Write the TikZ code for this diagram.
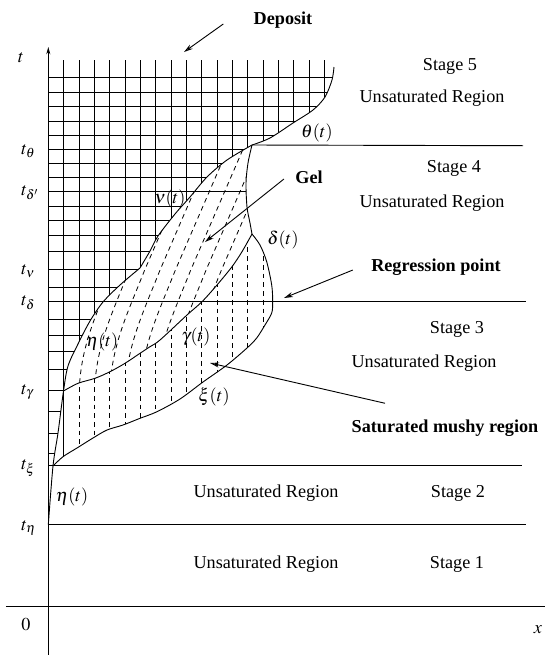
\documentclass[tikz,border=0pt]{standalone}
\usepackage{mathptmx}
\usepackage{fontspec}
\setmainfont{Liberation Serif}
\usetikzlibrary{arrows.meta, calc}

\tikzset{
  curve/.style={line width=0.5pt},
  gridline/.style={line width=0.45pt},
  mush/.style={line width=0.45pt, dash pattern=on 2.6pt off 2.2pt},
  pointer/.style={line width=0.5pt, -{Stealth[open, length=5pt, width=2.8pt]}},
  lbl/.style={font=\bfseries},
}

\begin{document}
\begin{tikzpicture}[x=0.55pt, y=-0.55pt]
  \useasboundingbox (0,0) rectangle (545,655);

  % Key points
  \coordinate (O) at (48.3,606.4);
  \coordinate (teta) at (48.3,524.7);
  \coordinate (txi) at (53,466);
  \coordinate (tgam) at (63.5,391);
  \coordinate (kink) at (140,268);
  \coordinate (cusp) at (252,145);
  \coordinate (peak) at (252,234);
  \coordinate (top) at (334,67);

  % Deposit grid (clipped by the outer curve and theta(t))
  \begin{scope}
    \clip (teta) -- (48.3,55) -- (340,55) -- (top)
      -- plot[smooth] coordinates {(334,67) (332,80) (325,97) (313,110) (293,123) (270,138) (252,145)}
      -- plot[smooth] coordinates {(252,145) (227,160) (207,177) (190,197) (175,214) (158,236) (150,251) (140,268)}
      -- plot[smooth] coordinates {(140,268) (120,285) (103,302) (90,321) (78,344) (68,366) (63.5,391) (58,433) (53,466) (48.3,524.7)}
      -- cycle;
    \foreach \i in {1,...,18}
      \draw[gridline] ({48.3+15.35*\i},60) -- ({48.3+15.35*\i},530);
    \foreach \y in {77.7,92.3,106.7,121,135,149.3,163.3,177.7,206.7,220,235,251,269.3,287.3,319.3,335,351.7,369.3,390.7,411.7,433.3,453.3}
      \draw[gridline] (48.3,\y) -- (340,\y);
  \end{scope}
  \draw[gridline] (63.65,391) -- (63.65,457);

  % Gel: slanted dashed lines
  \begin{scope}
    \clip plot[smooth] coordinates {(63.5,391) (68,366) (78,344) (90,321) (103,302) (120,285) (140,268)}
      -- plot[smooth] coordinates {(140,268) (150,251) (158,236) (175,214) (190,197) (207,177) (227,160) (252,145)}
      -- plot[smooth] coordinates {(252,145) (248,163) (246,183) (247,207) (250,223) (252,234)}
      -- plot[smooth] coordinates {(252,234) (242,251.7) (232,266.7) (217,285) (202,301.7) (187,315) (160,340) (150,346.7) (140,353.3) (125,363.3) (110,371.7) (95,378.3) (78,383.3) (63.5,391)}
      -- cycle;
    \foreach \i [evaluate=\i as \s using 48.3+15.35*\i] in {2,...,10}
      \draw[mush] (\s,470) -- (\s,400) .. controls (\s,350) and ({\s+15},320) .. ({\s+35},270) -- ++(80,-185);
  \end{scope}

  % Saturated mushy region: vertical dashed lines
  \begin{scope}
    \clip plot[smooth] coordinates {(63.5,391) (78,383.3) (95,378.3) (110,371.7) (125,363.3) (140,353.3) (150,346.7) (160,340) (187,315) (202,301.7) (217,285) (232,266.7) (242,251.7) (252,234)}
      -- plot[smooth] coordinates {(252,234) (260,245) (266.7,261.7) (271.7,285) (272.7,301.7) (271.7,313) (265,325) (256.7,338) (247,348) (227,365) (203,382) (180,399) (157,411.7) (140,418.3) (123,425) (107,430) (93,438) (77,448) (63,456.7) (53,466)}
      -- plot[smooth] coordinates {(53,466) (58,433) (63.5,391)}
      -- cycle;
    \foreach \i in {2,...,14}
      \draw[mush] ({48.3+15.35*\i},230) -- ({48.3+15.35*\i},470);
  \end{scope}

  % Free boundaries
  \draw[curve] plot[smooth] coordinates {(48.3,524.7) (53,466) (58,433) (63.5,391) (68,366) (78,344) (90,321) (103,302) (120,285) (140,268)};
  \draw[curve] plot[smooth] coordinates {(140,268) (150,251) (158,236) (175,214) (190,197) (207,177) (227,160) (252,145)};
  \draw[curve] plot[smooth] coordinates {(252,145) (270,138) (293,123) (313,110) (325,97) (332,80) (334,67)};
  \draw[curve] plot[smooth] coordinates {(252,145) (248,163) (246,183) (247,207) (250,223) (252,234)};
  \draw[curve] plot[smooth] coordinates {(63.5,391) (78,383.3) (95,378.3) (110,371.7) (125,363.3) (140,353.3) (150,346.7) (160,340) (187,315) (202,301.7) (217,285) (232,266.7) (242,251.7) (252,234)};
  \draw[curve] plot[smooth] coordinates {(252,234) (260,245) (266.7,261.7) (271.7,285) (272.7,301.7) (271.7,313) (265,325) (256.7,338) (247,348) (227,365) (203,382) (180,399) (157,411.7) (140,418.3) (123,425) (107,430) (93,438) (77,448) (63,456.7) (53,466)};

  % Time levels
  \draw[curve] (cusp) -- (523,145.7);
  \draw[curve] (48.3,191.7) -- (246,191.7);
  \draw[curve] (48.3,301.7) -- (526,301.7);
  \draw[curve] (48.3,465.7) -- (522,465.7);
  \draw[curve] (teta) -- (526,524.7);

  % Axes
  \draw[curve, -{Stealth[length=4pt, width=2.2pt]}] (48.3,655) -- (48.3,47);
  \draw[curve] (6,606.4) -- (545,606.4);

  % Axis labels
  \node (lt) at (21,58) {$t$};
  \node[anchor=west] (ltheta) at (15,151) {$t_\theta$};
  \node[anchor=west] (ldeltap) at (15,193) {$t_{\delta'}$};
  \node[anchor=west] (lnu) at (15,271) {$t_\nu$};
  \node[anchor=west] (ldelta) at (15,303) {$t_\delta$};
  \node[anchor=west] (lgamma) at (15,392) {$t_\gamma$};
  \node[anchor=west] (lxi) at (15,468) {$t_\xi$};
  \node[anchor=west] (leta) at (15,528) {$t_\eta$};
  \node (lzero) at (26,625) {$0$};
  \node (lx) at (538,630) {$x$};

  % Curve labels
  \node (ntheta) at (317,133) {$\theta(t)$};
  \node (nnu) at (170,199) {$\nu(t)$};
  \node (ndelta) at (283,240) {$\delta(t)$};
  \node (netaup) at (102,342) {$\eta(t)$};
  \node (ngamma) at (196,337) {$\gamma(t)$};
  \node (nxi) at (214,397) {$\xi(t)$};
  \node (netalow) at (72,497) {$\eta(t)$};

  % Stage labels
  \node (st5) at (450,66) {Stage 5};
  \node (un5) at (432,98) {Unsaturated Region};
  \node (st4) at (454,168) {Stage 4};
  \node (un4) at (432,203) {Unsaturated Region};
  \node (st3) at (457,329) {Stage 3};
  \node (un3) at (424,363) {Unsaturated Region};
  \node (un2) at (266,493) {Unsaturated Region};
  \node (st2) at (458,493) {Stage 2};
  \node (un1) at (266,564) {Unsaturated Region};
  \node (st1) at (457,564) {Stage 1};

  % Pointers
  \node[lbl] (deposit) at (283,20) {Deposit};
  \node[lbl] (gel) at (309,177) {Gel};
  \node[lbl] (regr) at (436,267) {Regression point};
  \node[lbl] (mushy) at (445,428) {Saturated mushy region};
  \coordinate (depTip) at (184,52);
  \coordinate (gelTip) at (205,242);
  \coordinate (regrTip) at (284,298);
  \coordinate (mushyTip) at (210,363);
  \draw[pointer] ($(deposit.west)+(-24,4)$) -- (depTip);
  \draw[pointer] ($(gel.west)+(-5,2)$) -- (gelTip);
  \draw[pointer] ($(regr.west)+(-12,3)$) -- (regrTip);
  \draw[pointer] ($(mushy.north)+(-60,-10)$) -- (mushyTip);
\end{tikzpicture}
\end{document}
